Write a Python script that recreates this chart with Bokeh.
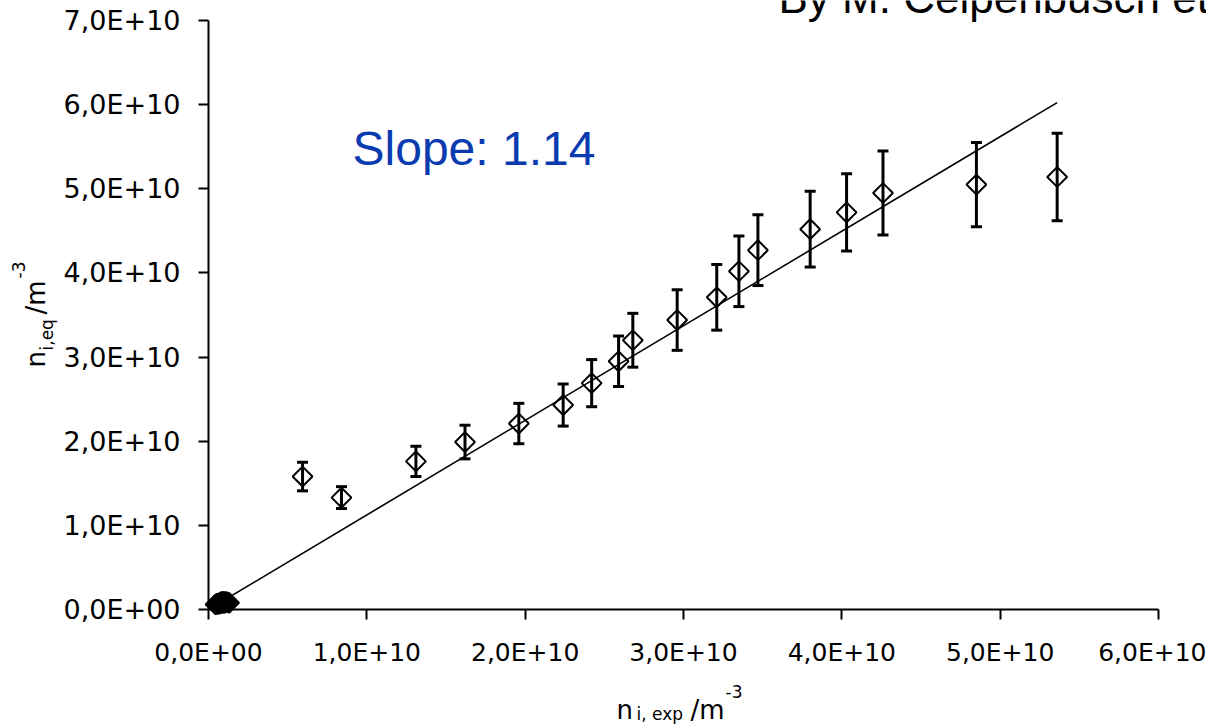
import math
from bokeh.plotting import figure
from bokeh.models import (ColumnDataSource, Whisker, TeeHead, Label, Range1d,
                          FixedTicker)
from bokeh.embed import file_html
from bokeh.resources import INLINE

# values in units of 1E10 m^-3
x_exp = [0.594, 0.84, 1.31, 1.62, 1.96, 2.24, 2.42, 2.59, 2.68, 2.96, 3.21,
         3.35, 3.47, 3.80, 4.03, 4.26, 4.85, 5.36]
y_eq = [1.58, 1.33, 1.76, 1.99, 2.21, 2.43, 2.69, 2.95, 3.20, 3.44, 3.71,
        4.02, 4.27, 4.52, 4.72, 4.95, 5.05, 5.14]
y_err = [0.17, 0.13, 0.18, 0.20, 0.24, 0.25, 0.28, 0.30, 0.32, 0.36, 0.39,
         0.42, 0.42, 0.45, 0.46, 0.50, 0.50, 0.52]

# cluster of low-density points near the origin
x_low = [0.045, 0.055, 0.06, 0.07, 0.075, 0.08, 0.09, 0.095, 0.10, 0.11, 0.12, 0.13]
y_low = [0.06, 0.07, 0.065, 0.08, 0.07, 0.09, 0.08, 0.095, 0.075, 0.09, 0.085, 0.08]
err_low = [0.015] * len(x_low)

fit_slope = 1.124
fit_x = [0.0, 5.36]

x_ticks = [0, 1, 2, 3, 4, 5, 6]
x_tick_labels = ["0,0E+00", "1,0E+10", "2,0E+10", "3,0E+10", "4,0E+10", "5,0E+10", "6,0E+10"]
y_ticks = [0, 1, 2, 3, 4, 5, 6, 7]
y_tick_labels = ["0,0E+00", "1,0E+10", "2,0E+10", "3,0E+10", "4,0E+10", "5,0E+10",
                 "6,0E+10", "7,0E+10"]

slope_text = "Slope: 1.14"
credit_text = "By M. Celpenbusch et al."

# ---- layout: the frame is the whole canvas, axes sit at fixed positions ----
W, H = 1206, 724
X0_PX, X6_PX = 208, 1158      # page x of x=0 and x=6
Y0_PX, Y7_PX = 609, 20        # page y of y=0 and y=7
sx = (X6_PX - X0_PX) / 6.0
sy = (Y0_PX - Y7_PX) / 7.0

p = figure(width=W, height=H,
           x_range=Range1d(-X0_PX / sx, (W - X0_PX) / sx),
           y_range=Range1d(-(H - Y0_PX) / sy, Y0_PX / sy),
           output_backend="svg", toolbar_location=None)
p.min_border = 0
p.xgrid.visible = False
p.ygrid.visible = False
p.outline_line_color = None
p.background_fill_color = "white"
p.border_fill_color = "white"

p.xaxis.fixed_location = 0
p.yaxis.fixed_location = 0
p.xaxis.bounds = (x_ticks[0], x_ticks[-1])
p.yaxis.bounds = (y_ticks[0], y_ticks[-1])

for ax, ticks, labels, standoff, fs in ((p.xaxis[0], x_ticks, x_tick_labels, 18, "25px"),
                                        (p.yaxis[0], y_ticks, y_tick_labels, 18, "27px")):
    ax.ticker = FixedTicker(ticks=ticks)
    ax.major_label_overrides = {t: l for t, l in zip(ticks, labels)}
    ax.axis_line_width = 2
    ax.axis_line_color = "black"
    ax.major_tick_line_width = 2
    ax.major_tick_line_color = "black"
    ax.major_tick_out = 10
    ax.major_tick_in = 0
    ax.minor_tick_line_color = None
    ax.major_label_text_font = "DejaVu Sans"
    ax.major_label_text_font_size = fs
    ax.major_label_text_color = "black"
    ax.major_label_standoff = standoff

# fit line
fit_y = [fit_slope * v for v in fit_x]
p.line(fit_x, fit_y, line_color="black", line_width=1.6)

all_x = x_exp + x_low
all_y = y_eq + y_low
all_e = y_err + err_low
src = ColumnDataSource(dict(x=all_x, y=all_y,
                            lo=[a - b for a, b in zip(all_y, all_e)],
                            hi=[a + b for a, b in zip(all_y, all_e)]))
wh = Whisker(base="x", lower="lo", upper="hi", source=src, dimension="height",
             line_color="black", line_width=3,
             upper_head=TeeHead(size=11, line_width=3, line_color="black"),
             lower_head=TeeHead(size=11, line_width=3, line_color="black"))
p.add_layout(wh)

p.scatter("x", "y", source=src, marker="square", angle=math.pi / 4, size=14,
          fill_color=None, line_color="black", line_width=2)

K = 0.38  # the label anchor sits ~0.38 em above the baseline


def put(text, px, py, fs, font="DejaVu Sans", color="black", angle=0.0):
    """Place a text with its baseline start at page pixel (px, py)."""
    if angle == 0.0:
        py = py - K * fs
    else:
        px = px - K * fs
    p.add_layout(Label(x=px, y=H - py, x_units="screen", y_units="screen",
                       text=text, text_font=font, text_font_size=f"{fs}px",
                       text_color=color, text_baseline="alphabetic", angle=angle))


put(slope_text, 352, 166, 48, font="Liberation Sans", color="#0b3bb0")
put(credit_text, 778, 14, 44, font="Liberation Sans")

# x-axis label: n_{i,exp} /m^-3
put("n", 616, 719, 26)
put("i, exp", 636, 720, 17)
put("/m", 690, 719, 26)
put("-3", 725, 697, 17)

# y-axis label: n_{i,eq} /m^-3 (rotated, reading upwards)
put("n", 45, 367, 26, angle=math.pi / 2)
put("i,eq", 53, 350, 17, angle=math.pi / 2)
put("/m", 45, 314, 26, angle=math.pi / 2)
put("-3", 24, 278, 17, angle=math.pi / 2)

open("out.html", "w").write(file_html(p, INLINE))
